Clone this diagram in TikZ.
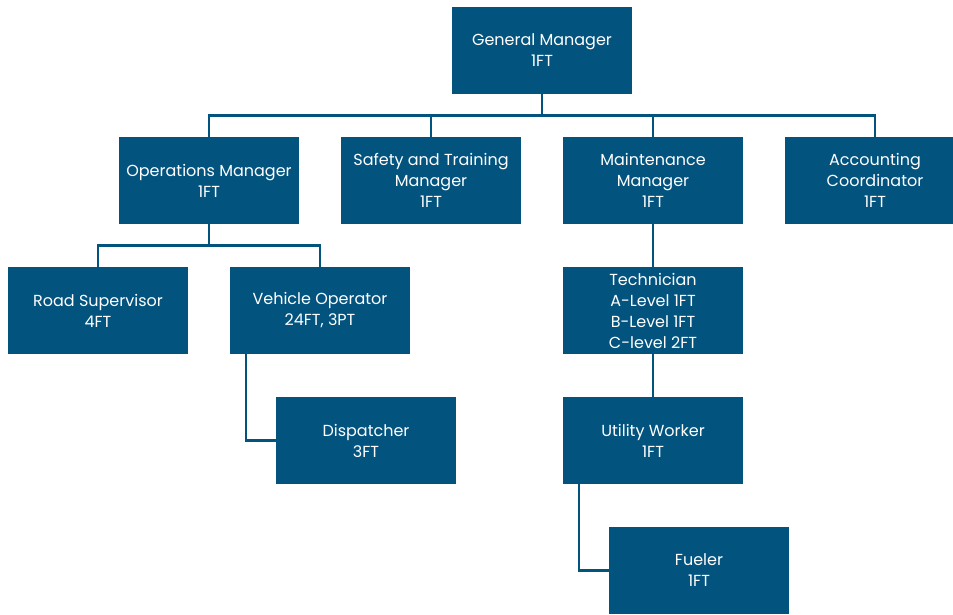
\documentclass[tikz,border=0pt]{standalone}
\usepackage{fontspec}
\setmainfont{Poppins}
\usepackage{xcolor}
\usetikzlibrary{calc, positioning}
\definecolor{orgblue}{HTML}{03537F}

\begin{document}
\begin{tikzpicture}[
        x=1pt, y=1pt,
        node distance=43pt and 42pt,
        every node/.style={align=center, font=\fontsize{16}{21}\selectfont},
        box/.style={fill=orgblue, text=white, minimum width=180pt, minimum height=87pt, inner sep=0pt, outer sep=0pt},
        line/.style={draw=orgblue, line width=2.6pt},
    ]
    \useasboundingbox (0,0) rectangle (953,-614);
    % Nodes
    \node[box] (GM) at (542,-50.5) {General Manager \\ 1FT};
    \node[box] (Maint) [below=of GM, xshift=111pt] {Maintenance \\ Manager \\ 1FT};
    \node[box] (Safety) [left=of Maint] {Safety and Training \\ Manager \\ 1FT};
    \node[box] (Ops) [left=of Safety] {Operations Manager \\ 1FT};
    \node[box] (Acct) [right=of Maint] {Accounting \\ Coordinator \\ 1FT};
    \node[box] (Vehicle) [below=of Ops, xshift=111pt] {Vehicle Operator \\ 24FT, 3PT};
    \node[box] (Road) [left=of Vehicle] {Road Supervisor \\ 4FT};
    \node[box] (Tech) [below=of Maint] {Technician \\ A-Level 1FT \\ B-Level 1FT \\ C-level 2FT};
    \node[box] (Disp) [below=of Vehicle, xshift=46pt] {Dispatcher \\ 3FT};
    \node[box] (Util) [below=of Tech] {Utility Worker \\ 1FT};
    \node[box] (Fuel) [below=of Util, xshift=46pt] {Fueler \\ 1FT};
    % Connectors
    \foreach \n in {Ops, Safety, Maint, Acct}
        \draw[line] (GM.south) -- ++(0,-21.5) -| (\n.north);
    \foreach \n in {Road, Vehicle}
        \draw[line] (Ops.south) -- ++(0,-21.5) -| (\n.north);
    \draw[line] (Maint) -- (Tech);
    \draw[line] (Tech) -- (Util);
    \draw[line] ([xshift=16pt]Vehicle.south west) |- (Disp.west);
    \draw[line] ([xshift=16pt]Util.south west) |- (Fuel.west);
\end{tikzpicture}
\end{document}
